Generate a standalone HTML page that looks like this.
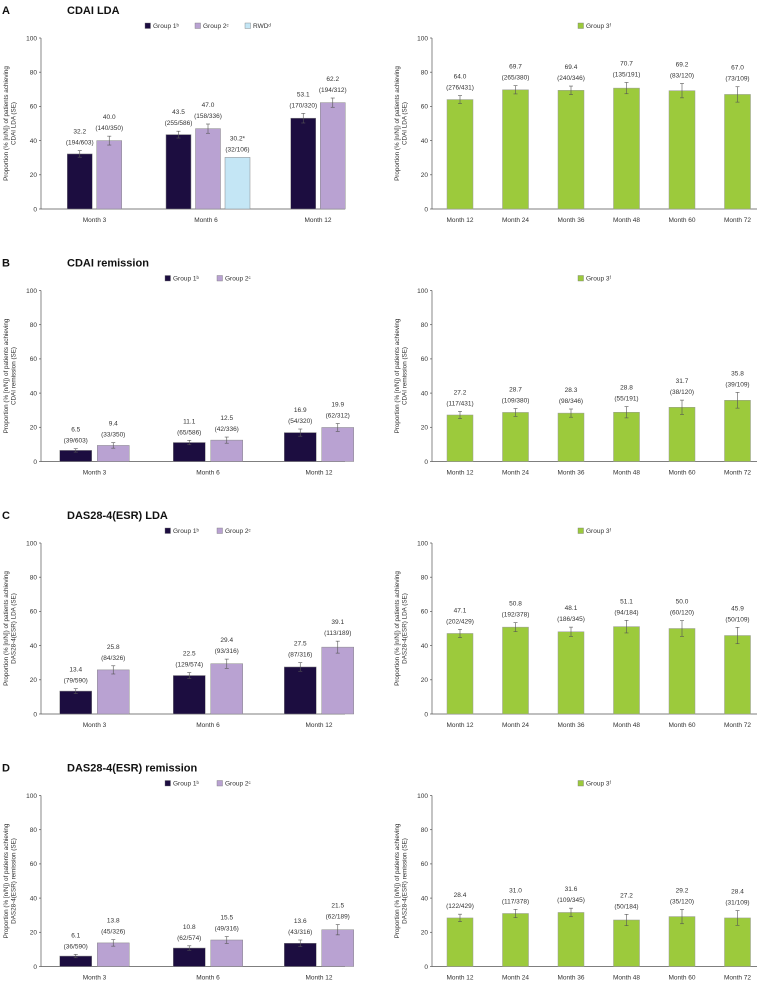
<!DOCTYPE html>
<html><head><meta charset="utf-8"><style>
html,body{margin:0;padding:0;background:#fff;}
svg{display:block;font-family:"Liberation Sans",Arial,sans-serif;}
</style></head><body>
<svg id="fig" width="758" height="982" viewBox="0 0 758 982" xmlns="http://www.w3.org/2000/svg"></svg>
<script>
// Panel data
const panelLetters = ['A','B','C','D'];
const panelTitles = ['CDAI LDA','CDAI remission','DAS28-4(ESR) LDA','DAS28-4(ESR) remission'];
const yTitles = ['CDAI LDA (SE)','CDAI remission (SE)','DAS28-4(ESR) LDA (SE)','DAS28-4(ESR) remission (SE)'];
const leftCategories = ['Month 3','Month 6','Month 12'];
const rightCategories = ['Month 12','Month 24','Month 36','Month 48','Month 60','Month 72'];
const yTicks = [0,20,40,60,80,100];

const g1Values = [[32.2,43.5,53.1],[6.5,11.1,16.9],[13.4,22.5,27.5],[6.1,10.8,13.6]];
const g1Counts = [['194/603','255/586','170/320'],['39/603','65/586','54/320'],['79/590','129/574','87/316'],['36/590','62/574','43/316']];
const g1SE = [[1.9,2.0,2.8],[1.0,1.3,2.1],[1.4,1.7,2.5],[1.0,1.3,1.9]];
const g2Values = [[40.0,47.0,62.2],[9.4,12.5,19.9],[25.8,29.4,39.1],[13.8,15.5,21.5]];
const g2Counts = [['140/350','158/336','194/312'],['33/350','42/336','62/312'],['84/326','93/316','113/189'],['45/326','49/316','62/189']];
const g2SE = [[2.6,2.7,2.7],[1.6,1.8,2.3],[2.4,2.7,3.5],[1.9,2.0,3.0]];
const rwdValue = 30.2;
const rwdCount = '32/106';
const g3Values = [[64.0,69.7,69.4,70.7,69.2,67.0],[27.2,28.7,28.3,28.8,31.7,35.8],[47.1,50.8,48.1,51.1,50.0,45.9],[28.4,31.0,31.6,27.2,29.2,28.4]];
const g3Counts = [['276/431','265/380','240/346','135/191','83/120','73/109'],['117/431','109/380','98/346','55/191','38/120','39/109'],['202/429','192/378','186/345','94/184','60/120','50/109'],['122/429','117/378','109/345','50/184','35/120','31/109']];
const g3SE = [[2.3,2.4,2.5,3.3,4.2,4.5],[2.1,2.3,2.4,3.3,4.2,4.6],[2.4,2.6,2.7,3.7,4.6,4.8],[2.2,2.4,2.5,3.3,4.2,4.3]];

const NS='http://www.w3.org/2000/svg';
const svg=document.getElementById('fig');
function mk(tag,attrs,parent,text){const e=document.createElementNS(NS,tag);for(const k in attrs)e.setAttribute(k,attrs[k]);if(text!==undefined)e.textContent=text;(parent||svg).appendChild(e);return e;}

const C1='#1c0d40',C2='#b9a2d2',C3='#c4e6f5',CG='#9cca3c';
const PANEL_DY=252.5;

function drawPanel(p){
  const base=209+p*PANEL_DY;
  const yScale=v=>base-v*1.71;
  const g=mk('g',{});  
  const t1=mk('text',{x:2,y:base-195,'font-size':11,'font-weight':'bold',fill:'#111'},g,panelLetters[p]);
   
  const t2=mk('text',{x:67,y:base-195,'font-size':11,'font-weight':'bold',fill:'#111'},g,panelTitles[p]);
   

  // two sub-charts
  [[41,345,'left'],[432,757,'right']].forEach(([ax,ex,side])=>{
    const cg=mk('g',{},g);  
    mk('line',{x1:ax,y1:yScale(100),x2:ax,y2:base,stroke:'#555','stroke-width':0.7},cg);
    mk('line',{x1:ax,y1:base,x2:ex,y2:base,stroke:'#555','stroke-width':0.7},cg);
    yTicks.forEach(v=>{
      mk('line',{x1:ax-2,y1:yScale(v),x2:ax,y2:yScale(v),stroke:'#555','stroke-width':0.7},cg);
      const tl=mk('text',{x:ax-4,y:yScale(v)+2.3,'font-size':6.5,'text-anchor':'end',fill:'#333'},cg,String(v));
       
    });
    const tx=ax-33, ty=yScale(50);
    const yt=mk('text',{transform:`translate(${tx},${ty}) rotate(-90)`,'font-size':6.3,'text-anchor':'middle',fill:'#333'},cg);
     
    mk('tspan',{x:0,dy:0},yt,'Proportion (% [n/N]) of patients achieving');
    mk('tspan',{x:0,dy:7.5},yt,yTitles[p]);
  });

  function bar(parent,cx,w,v,se,color,val,cnt,name,stroke){
    const top=yScale(v);
    const r=mk('rect',{x:cx-w/2,y:top,width:w,height:base-top,fill:color,stroke:stroke||'#888','stroke-width':0.5},parent);
     
    let lt=top;
    if(se){const a=yScale(v+se),b=yScale(v-se);lt=a;
      mk('line',{x1:cx,y1:a,x2:cx,y2:b,stroke:'#555','stroke-width':0.6},parent);
      mk('line',{x1:cx-2,y1:a,x2:cx+2,y2:a,stroke:'#555','stroke-width':0.6},parent);
      mk('line',{x1:cx-2,y1:b,x2:cx+2,y2:b,stroke:'#555','stroke-width':0.6},parent);}
    const l1=mk('text',{x:cx,y:lt-17,'font-size':6.5,'text-anchor':'middle',fill:'#333'},parent,val);
     
    const l2=mk('text',{x:cx,y:lt-6,'font-size':6.5,'text-anchor':'middle',fill:'#333'},parent,'('+cnt+')');
     
  }

  // left chart
  const lg=mk('g',{},g);  
  const three=(p===0);
  const centers=three?[94.5,206,318]:[94.5,208,319];
  const bw=three?25:32, gap=three?4.5:5.5;
  leftCategories.forEach((c,i)=>{
    let c1,c2;
    if(three && i===1){c1=centers[i]-bw-gap+2;c2=centers[i]+2;}
    else {c1=centers[i]-(bw+gap)/2;c2=centers[i]+(bw+gap)/2;}
    bar(lg,c1,bw,g1Values[p][i],g1SE[p][i],C1,g1Values[p][i].toFixed(1),g1Counts[p][i],'bar-group1-'+c.toLowerCase().replace(' ','-'));
    bar(lg,c2,bw,g2Values[p][i],g2SE[p][i],C2,g2Values[p][i].toFixed(1),g2Counts[p][i],'bar-group2-'+c.toLowerCase().replace(' ','-'));
    if(three && i===1){bar(lg,c2+bw+gap,bw,rwdValue,0,C3,rwdValue.toFixed(1)+'*',rwdCount,'bar-rwd-month-6');}
    const xl=mk('text',{x:centers[i],y:base+13,'font-size':6.5,'text-anchor':'middle',fill:'#333'},lg,c);
     
  });
  // left legend
  const leg=mk('g',{},g);  
  const ly=base-181;
  const items=three?[[C1,'Group 1ᵇ',145],[C2,'Group 2ᶜ',195],[C3,'RWDᵈ',245]]:[[C1,'Group 1ᵇ',165],[C2,'Group 2ᶜ',217]];
  items.forEach(([col,lab,x])=>{
    const e=mk('g',{},leg);  
    mk('rect',{x:x,y:ly-5,width:5.5,height:5.5,fill:col,stroke:'#777','stroke-width':0.4},e);
    mk('text',{x:x+8,y:ly,'font-size':6.5,fill:'#333'},e,lab);
  });

  // right chart
  const rg=mk('g',{},g);  
  rightCategories.forEach((c,i)=>{
    const cx=460+i*55.5;
    bar(rg,cx,26,g3Values[p][i],g3SE[p][i],CG,g3Values[p][i].toFixed(1),g3Counts[p][i],'bar-group3-'+c.toLowerCase().replace(' ','-'),'#999');
    const xl=mk('text',{x:cx,y:base+13,'font-size':6.5,'text-anchor':'middle',fill:'#333'},rg,c);
     
  });
  const rl=mk('g',{},g);  
  mk('rect',{x:578,y:ly-5,width:5.5,height:5.5,fill:CG,stroke:'#777','stroke-width':0.4},rl);
  mk('text',{x:586,y:ly,'font-size':6.5,fill:'#333'},rl,'Group 3ᶠ');
}
for(let p=0;p<4;p++)drawPanel(p);
</script>
</body></html>
